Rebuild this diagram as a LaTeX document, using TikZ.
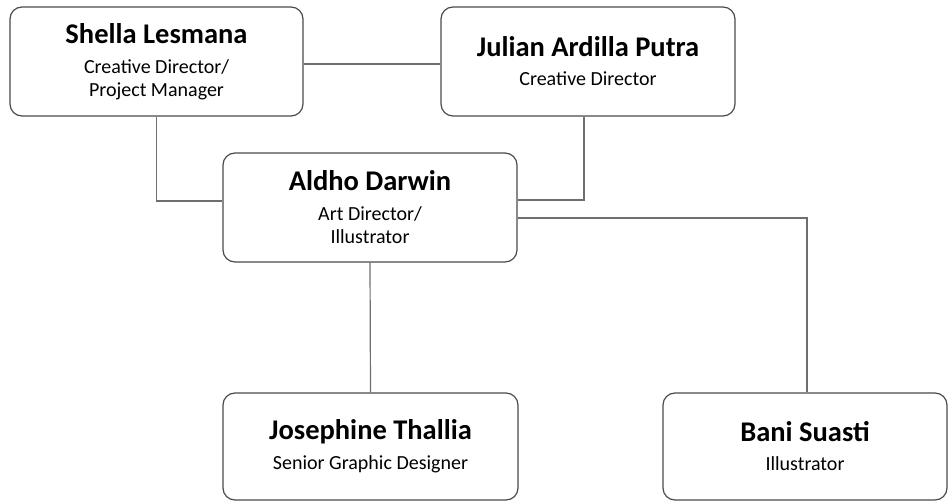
\documentclass[tikz,border=0pt]{standalone}
\usepackage{fontspec}
\setmainfont{Carlito}
\begin{document}
\begin{tikzpicture}[x=1bp,y=-1bp,
  person/.style={draw=boxgray, line width=1.2bp, rounded corners=12bp, align=center,
    inner sep=0pt, font=\fontsize{20bp}{23bp}\selectfont},
  link/.style={draw=linegray, line width=1.2bp},
  ]
\definecolor{boxgray}{HTML}{4A4A4A}
\definecolor{linegray}{HTML}{6E6E6E}
\useasboundingbox (0,0) rectangle (951,501);
\newcommand{\ttl}[1]{{\fontsize{28.5bp}{28bp}\selectfont\bfseries #1}}
\node[person, minimum width=293bp, minimum height=109bp] (S) at (156.5,61.5)
  {\ttl{Shella Lesmana}\\[7bp] Creative Director/\\ Project Manager};
\node[person, minimum width=294bp, minimum height=109bp] (J) at (588,61.5)
  {\ttl{Julian Ardilla Putra}\\[6bp] Creative Director};
\node[person, minimum width=294bp, minimum height=109bp] (A) at (370,207.5)
  {\ttl{Aldho Darwin}\\[7bp] Art Director/\\ Illustrator};
\node[person, minimum width=295bp, minimum height=107bp] (T) at (370.5,446.5)
  {\ttl{Josephine Thallia}\\[7bp] Senior Graphic Designer};
\node[person, minimum width=284bp, minimum height=107bp] (B) at (805,446.5)
  {\ttl{Bani Suasti}\\[6bp] Illustrator};
\draw[link] ([yshift=-2.5bp]S.east) -- ([yshift=-2.5bp]J.west);
\draw[link] (S.south) |- ([yshift=6.5bp]A.west);
\draw[link] ([xshift=-4bp]J.south) |- ([yshift=7.5bp]A.east);
\draw[link] ([yshift=-10.5bp]A.east) -| ([xshift=2bp]B.north);
\draw[link] (A.south) -- (T.north);
\end{tikzpicture}
\end{document}
